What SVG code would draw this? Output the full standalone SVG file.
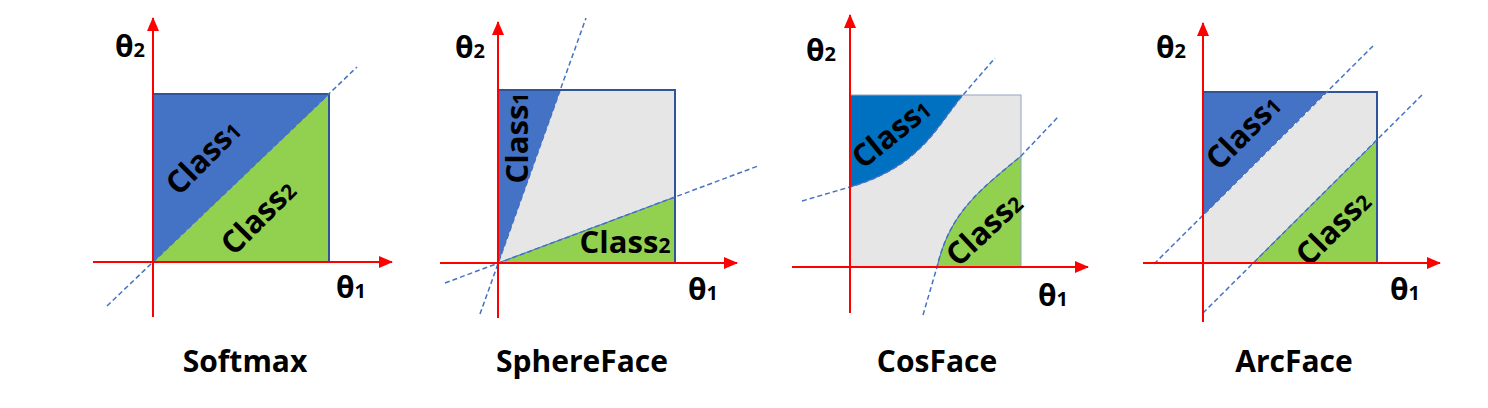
<svg xmlns="http://www.w3.org/2000/svg" width="1488" height="408" viewBox="0 0 1488 408">
<defs>
<marker id="arr" markerUnits="userSpaceOnUse" markerWidth="14" markerHeight="12" refX="13" refY="6" orient="auto">
<path d="M0,0 L14,6 L0,12 Z" fill="#FF0000"/>
</marker>
<style>
.axis{stroke:#FF0000;stroke-width:2;fill:none}
.box{fill:none;stroke:#2F5597;stroke-width:2}
.box3{fill:none;stroke:#8FA3C4;stroke-width:1}
.dash{stroke:#4472C4;stroke-width:1.5;stroke-dasharray:5 3;fill:none}
.blue{fill:#4472C4}
.blue3{fill:#0070C0}
.green{fill:#92D050}
.grey{fill:#E7E6E6}
.edge{stroke:#4472C4;stroke-width:1;fill:none}
.cls{font-family:"Open Sans","Noto Sans",sans-serif;font-weight:bold;font-size:31px;fill:#000}
.sub{font-size:21px}
.th{font-family:"Open Sans","Noto Sans",sans-serif;font-weight:bold;font-size:30px;fill:#000}
.ths{font-size:20px}
.title{font-family:"Open Sans","Noto Sans",sans-serif;font-weight:bold;font-size:30px;fill:#000;text-anchor:middle}
</style>
</defs>
<rect width="1488" height="408" fill="#FFFFFF"/>

<g id="softmax">
<polygon class="blue" points="153,94 329,94 153,262"/>
<polygon class="green" points="153,262 329,94 329,262"/>
<line class="edge" x1="153" y1="262" x2="329" y2="94"/>
<rect class="box" x="153" y="94" width="176" height="168"/>
<line class="dash" x1="107" y1="306" x2="357" y2="67"/>
<text class="cls" text-anchor="middle" transform="translate(203,157) rotate(-45)" y="11">Class<tspan class="sub">1</tspan></text>
<text class="cls" text-anchor="middle" transform="translate(258,217) rotate(-45)" y="11">Class<tspan class="sub">2</tspan></text>
<line class="axis" x1="153" y1="317" x2="153" y2="18" marker-end="url(#arr)"/>
<line class="axis" x1="93" y1="262" x2="392" y2="262" marker-end="url(#arr)"/>
<text class="th" x="115" y="57">θ<tspan class="ths">2</tspan></text>
<text class="th" x="336" y="298">θ<tspan class="ths">1</tspan></text>
<text class="title" x="245" y="372">Softmax</text>
</g>

<g id="sphereface">
<polygon class="grey" points="560,90 675,90 675,197 498,263"/>
<polygon class="blue" points="498,90 560,90 498,263"/>
<polygon class="green" points="498,263 675,197 675,263"/>
<line class="edge" x1="498" y1="263" x2="560" y2="90"/>
<line class="edge" x1="498" y1="263" x2="675" y2="197"/>
<rect class="box" x="498" y="90" width="177" height="173"/>
<line class="dash" x1="480" y1="314" x2="586" y2="18"/>
<line class="dash" x1="445" y1="283" x2="758" y2="166"/>
<text class="cls" text-anchor="middle" transform="translate(517,138) rotate(-90)" y="11">Class<tspan class="sub">1</tspan></text>
<text class="cls" text-anchor="middle" x="625" y="253">Class<tspan class="sub">2</tspan></text>
<line class="axis" x1="498" y1="318" x2="498" y2="22" marker-end="url(#arr)"/>
<line class="axis" x1="440" y1="263" x2="737" y2="263" marker-end="url(#arr)"/>
<text class="th" x="455" y="58">θ<tspan class="ths">2</tspan></text>
<text class="th" x="688" y="300">θ<tspan class="ths">1</tspan></text>
<text class="title" x="582" y="372">SphereFace</text>
</g>

<g id="cosface">
<rect class="grey" x="850" y="95" width="171" height="172"/>
<path class="blue3" d="M850,95 L963,95 C937,125 922,166 850,187 Z"/>
<path class="green" d="M937,267 C950,212 980,190 1021,156 L1021,267 Z"/>
<path class="edge" d="M850,187 C922,166 937,125 963,95"/>
<path class="edge" d="M937,267 C950,212 980,190 1021,156"/>
<rect class="box3" x="850" y="95" width="171" height="172"/>
<path class="dash" d="M802,201 L850,187 C922,166 937,125 963,95 L995,58"/>
<path class="dash" d="M923,315 L937,267 C950,212 980,190 1021,156 L1058,117"/>
<text class="cls" text-anchor="middle" transform="translate(891,133) rotate(-39)" y="11">Class<tspan class="sub">1</tspan></text>
<text class="cls" text-anchor="middle" transform="translate(984,229) rotate(-43)" y="11">Class<tspan class="sub">2</tspan></text>
<line class="axis" x1="850" y1="313" x2="850" y2="15" marker-end="url(#arr)"/>
<line class="axis" x1="792" y1="267" x2="1088" y2="267" marker-end="url(#arr)"/>
<text class="th" x="806" y="61">θ<tspan class="ths">2</tspan></text>
<text class="th" x="1038" y="306">θ<tspan class="ths">1</tspan></text>
<text class="title" x="937" y="372">CosFace</text>
</g>

<g id="arcface">
<rect class="grey" x="1203" y="92" width="174" height="171"/>
<polygon class="blue" points="1203,92 1326,92 1203,215"/>
<polygon class="green" points="1253,263 1377,140 1377,263"/>
<line class="edge" x1="1203" y1="215" x2="1326" y2="92"/>
<line class="edge" x1="1253" y1="263" x2="1377" y2="140"/>
<rect class="box" x="1203" y="92" width="174" height="171"/>
<line class="dash" x1="1154" y1="264" x2="1375" y2="44"/>
<line class="dash" x1="1203" y1="313" x2="1422" y2="95"/>
<text class="cls" text-anchor="middle" transform="translate(1243,132) rotate(-45)" y="11">Class<tspan class="sub">1</tspan></text>
<text class="cls" text-anchor="middle" transform="translate(1333,228) rotate(-45)" y="11">Class<tspan class="sub">2</tspan></text>
<line class="axis" x1="1203" y1="322" x2="1203" y2="23" marker-end="url(#arr)"/>
<line class="axis" x1="1143" y1="263" x2="1440" y2="263" marker-end="url(#arr)"/>
<text class="th" x="1156" y="58">θ<tspan class="ths">2</tspan></text>
<text class="th" x="1390" y="300">θ<tspan class="ths">1</tspan></text>
<text class="title" x="1294" y="372">ArcFace</text>
</g>

<g id="connectors"></g>
</svg>
